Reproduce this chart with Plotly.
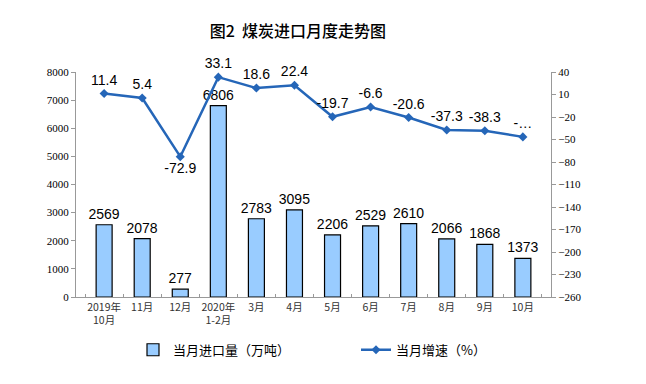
import plotly.graph_objects as go

categories = ["2019年<br>10月", "11月", "12月", "2020年<br>1-2月", "3月", "4月", "5月", "6月", "7月", "8月", "9月", "10月"]
imports = [2569, 2078, 277, 6806, 2783, 3095, 2206, 2529, 2610, 2066, 1868, 1373]
growth = [11.4, 5.4, -72.9, 33.1, 18.6, 22.4, -19.7, -6.6, -20.6, -37.3, -38.3, -46.5]
growth_labels = ["11.4", "5.4", "-72.9", "33.1", "18.6", "22.4", "-19.7", "-6.6", "-20.6", "-37.3", "-38.3", "-…"]
left_ticks = [0, 1000, 2000, 3000, 4000, 5000, 6000, 7000, 8000]
right_ticks = [40, 10, -20, -50, -80, -110, -140, -170, -200, -230, -260]

label_pos = ["top center"] * len(growth)
label_pos[2] = "bottom center"

fig = go.Figure()
fig.add_trace(go.Bar(
    x=categories, y=imports, name="当月进口量（万吨）",
    marker=dict(color="#99CCFF", line=dict(color="#000000", width=1.2)),
    text=[str(v) for v in imports], textposition="outside", constraintext="none",
    textfont=dict(family="Liberation Sans, Arial", size=14, color="#000000"),
    cliponaxis=False,
))
fig.add_trace(go.Scatter(
    x=categories, y=growth, name="当月增速（%）", yaxis="y2",
    mode="lines+markers+text",
    line=dict(color="#2566B8", width=2.5),
    marker=dict(symbol="diamond", size=7, color="#2566B8"),
    text=growth_labels, textposition=label_pos,
    textfont=dict(family="Liberation Sans, Arial", size=14, color="#000000"),
    cliponaxis=False,
))

fig.update_layout(
    width=646, height=384,
    margin=dict(l=76, r=95, t=72, b=87, autoexpand=False),
    paper_bgcolor="white", plot_bgcolor="white",
    title=dict(text="图2  煤炭进口月度走势图", x=0.461, xanchor="center", y=0.919, yanchor="middle",
               font=dict(family="Noto Sans CJK SC", size=16, color="#000000", weight=500)),
    bargap=0.58,
    showlegend=True,
    legend=dict(orientation="h", x=0.12, xanchor="left", y=0.089, yanchor="middle", yref="container",
                bgcolor="rgba(0,0,0,0)",
                font=dict(family="Noto Sans CJK SC", size=13, color="#000000"),
                itemwidth=30, tracegroupgap=0, entrywidthmode="pixels", entrywidth=178),
    xaxis=dict(
        type="category", showline=True, linecolor="#999999", linewidth=1,
        ticks="inside", tickson="boundaries", ticklen=3, tickcolor="#999999",
        tickangle=0, automargin=False,
        tickfont=dict(family="Noto Sans CJK SC", size=10.5, color="#333333"),
        showgrid=False,
    ),
    yaxis=dict(
        range=[0, 8000], tickvals=left_ticks, showline=True, linecolor="#999999", linewidth=1,
        ticks="outside", ticklen=4, tickcolor="#999999", showgrid=False, zeroline=False,
        automargin=False,
        tickfont=dict(family="Liberation Serif, Times New Roman", size=11, color="#000000"),
    ),
    yaxis2=dict(
        range=[-260, 40], tickvals=right_ticks, overlaying="y", side="right",
        showline=True, linecolor="#999999", linewidth=1,
        ticks="outside", ticklen=4, tickcolor="#999999", showgrid=False, zeroline=False,
        automargin=False,
        tickfont=dict(family="Liberation Serif, Times New Roman", size=11, color="#000000"),
    ),
)

fig.write_html("out.html", config={"displayModeBar": False},
               post_script="document.body.style.margin='0';")
